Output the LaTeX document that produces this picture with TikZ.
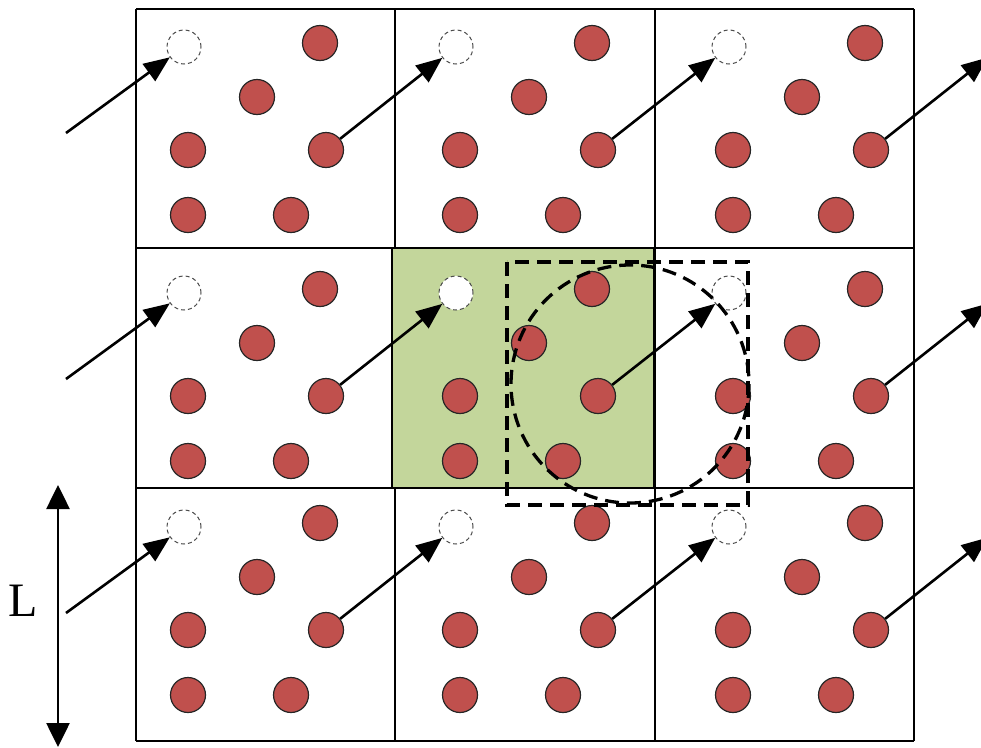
\documentclass[tikz,border=0pt]{standalone}
\usepackage{fontspec}
\setmainfont{Liberation Serif}
\usetikzlibrary{arrows.meta}

\definecolor{atomred}{HTML}{C0504D}
\definecolor{cellgreen}{HTML}{C3D69B}

\begin{document}
\begin{tikzpicture}[x=1pt, y=-1pt,
  atom/.style={circle, draw=black!85, fill=atomred, line width=1.2pt, minimum size=35pt, inner sep=0pt},
  ghost/.style={circle, draw=black!70, fill=white, line width=1pt, dash pattern=on 4pt off 3pt, minimum size=34pt, inner sep=0pt},
  jump/.style={-{Triangle[length=26pt, width=21pt]}, line width=2.6pt},
  cell/.style={line width=1.4pt},
  cutoff/.style={line width=3.3pt, dash pattern=on 14pt off 8pt}
]
\useasboundingbox (0,0) rectangle (981,747);

% the periodic cells and the central box
\foreach \x in {136,395,655,914} \draw[cell] (\x,9) -- (\x,741);
\foreach \y in {9,248,488,741} \draw[cell] (136,\y) -- (914,\y);
\fill[cellgreen] (392,248) rectangle (654,488);
\draw[line width=2.6pt] (392,248) rectangle (654,488);

% particles and their images
\foreach \r/\y in {0/47,1/293,2/527}{
  \foreach \c/\x in {0/184,1/456,2/729}{
    \node[ghost] (g-\r-\c) at (\x,\y) {};
    \node[atom] (a-\r-\c-1) at (\x+136,\y-4) {};
    \node[atom] (a-\r-\c-2) at (\x+73,\y+50) {};
    \node[atom] (a-\r-\c-3) at (\x+4,\y+103) {};
    \node[atom] (a-\r-\c-4) at (\x+142,\y+103) {};
    \node[atom] (a-\r-\c-5) at (\x+4,\y+168) {};
    \node[atom] (a-\r-\c-6) at (\x+107,\y+168) {};
  }
  \coordinate (in-\r) at (66,\y+86);
  \coordinate (out-\r) at (1001,\y);
  \draw[jump] (in-\r) -- (g-\r-0);
  \draw[jump] (a-\r-0-4) -- (g-\r-1);
  \draw[jump] (a-\r-1-4) -- (g-\r-2);
  \draw[jump, shorten >=17pt] (a-\r-2-4) -- (out-\r);
}

% cutoff region
\draw[cutoff] (507,262) rectangle (748,505);
\draw[cutoff] (630,384) circle (119);

% box length
\coordinate (ltop) at (58,485);
\coordinate (lbot) at (58,747);
\draw[{Triangle[length=24pt, width=23pt]}-{Triangle[length=24pt, width=23pt]}, line width=2.6pt] (ltop) -- (lbot);
\node[font=\fontsize{48}{52}\selectfont] (len) at (23,601) {L};
\end{tikzpicture}
\end{document}
